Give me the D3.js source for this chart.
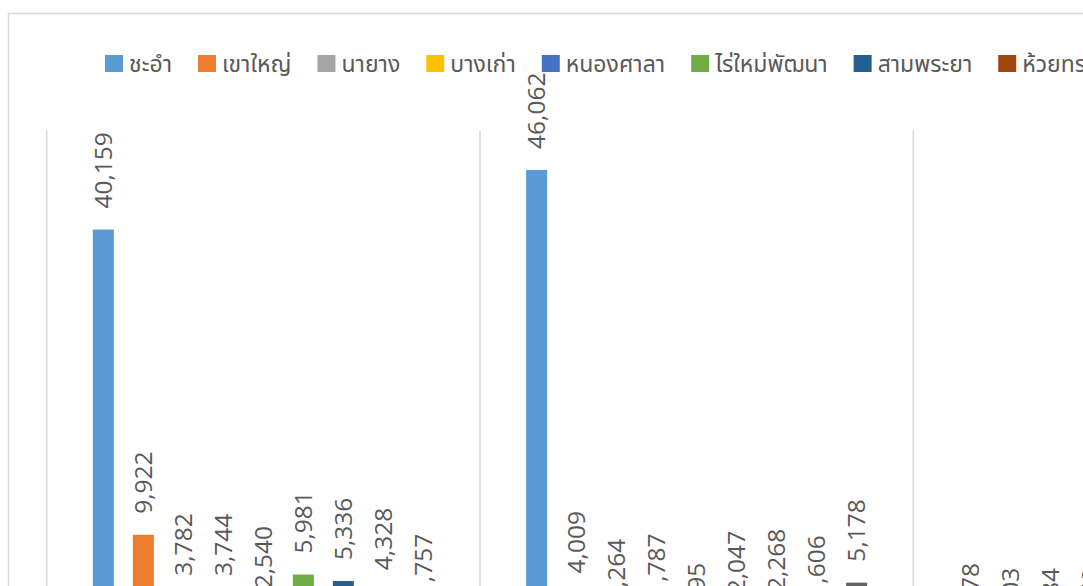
<!DOCTYPE html>
<html>
<head>
<meta charset="utf-8">
<script src="https://cdn.jsdelivr.net/npm/d3@7/dist/d3.min.js"></script>
<style>
  html, body { margin: 0; padding: 0; background: #ffffff; overflow: hidden; }
  svg { display: block; }
</style>
</head>
<body>
<div id="chart"></div>
<script>
// ---- data ----
const categories = ["2562", "2563", "2564"];
const seriesNames = ["ชะอำ", "เขาใหญ่", "นายาง", "บางเก่า", "หนองศาลา", "ไร่ใหม่พัฒนา", "สามพระยา", "ห้วยทรายเหนือ", "ห้วยแม่เพรียง"];
const seriesColors = ["#5B9BD5", "#ED7D31", "#A5A5A5", "#FFC000", "#4472C4", "#70AD47", "#255E91", "#9E480E", "#636363"];
// values[seriesIndex][categoryIndex]
const valuesChaam      = [40159, 46062, 878];
const valuesKhaoYai    = [9922, 4009, 403];
const valuesNaYang     = [3782, 1264, 384];
const valuesBangKao    = [3744, 1787, 350];
const valuesNongSala   = [2540, 895, 210];
const valuesRaiMai     = [5981, 2047, 420];
const valuesSamPhraya  = [5336, 2268, 460];
const valuesHuaiSai    = [4328, 1606, 380];
const valuesHuaiMae    = [1757, 5178, 520];
const seriesValues = [valuesChaam, valuesKhaoYai, valuesNaYang, valuesBangKao, valuesNongSala,
                      valuesRaiMai, valuesSamPhraya, valuesHuaiSai, valuesHuaiMae];
const yDomain = [0, 50000];

// ---- layout ----
const W = 1500, H = 700;
const plotLeft = 46.7, bandW = 433.3;
const plotTop = 130.2, plotBottom = 634.9;
const textColor = "#595959";
const fontFamily = "'Noto Sans Thai', 'Leelawadee UI', 'Noto Sans', 'Open Sans', sans-serif";

const svg = d3.select("#chart").append("svg")
  .attr("width", W).attr("height", H)
  .style("font-family", fontFamily);

// chart area border
svg.append("rect")
  .attr("x", 8.5).attr("y", 13.5)
  .attr("width", W).attr("height", H)
  .attr("fill", "#fff").attr("stroke", "#d9d9d9").attr("stroke-width", 1.5);

const x0 = d3.scaleBand().domain(categories)
  .range([plotLeft, plotLeft + bandW * categories.length])
  .paddingInner(0).paddingOuter(0);
const x1 = d3.scaleBand().domain(seriesNames)
  .range([0, x0.bandwidth()])
  .paddingInner(0.475).paddingOuter(1.154);
const y = d3.scaleLinear().domain(yDomain).range([plotBottom, plotTop]);

// vertical category gridlines
const gridX = categories.map(c => x0(c)).concat([x0(categories[categories.length - 1]) + x0.bandwidth()]);
svg.append("g").selectAll("line").data(gridX).join("line")
  .attr("x1", d => d).attr("x2", d => d)
  .attr("y1", plotTop).attr("y2", plotBottom)
  .attr("stroke", "#d9d9d9").attr("stroke-width", 1.5);

// bars
const fmt = d3.format(",");
const groups = svg.append("g").selectAll("g").data(seriesNames).join("g")
  .attr("fill", (d, i) => seriesColors[i]);
groups.each(function(name, si) {
  const g = d3.select(this);
  const data = categories.map((c, ci) => ({ c, v: seriesValues[si][ci] }));
  g.selectAll("rect").data(data).join("rect")
    .attr("x", d => x0(d.c) + x1(name))
    .attr("y", d => y(d.v))
    .attr("width", x1.bandwidth())
    .attr("height", d => y(0) - y(d.v));
  g.selectAll("text").data(data).join("text")
    .attr("transform", d => `translate(${x0(d.c) + x1(name) + x1.bandwidth() / 2},${y(d.v) - 21}) rotate(-90)`)
    .attr("dy", "0.35em")
    .attr("text-anchor", "start")
    .attr("fill", textColor)
    .attr("font-size", 24.5)
    .style("font-family", "'Open Sans', 'Noto Sans', sans-serif")
    .text(d => fmt(d.v));
});

// legend
const legend = svg.append("g");
let lx = 105;
seriesNames.forEach((name, i) => {
  const item = legend.append("g").attr("transform", `translate(${lx},55)`);
  item.append("rect").attr("width", 18).attr("height", 17).attr("fill", seriesColors[i]);
  const t = item.append("text").attr("x", 24).attr("y", 8.5).attr("dy", "0.35em")
    .attr("fill", textColor).attr("font-size", 23).text(name);
  const len = t.node().getComputedTextLength();
  lx += 24 + len + 26;
});
</script>
</body>
</html>
